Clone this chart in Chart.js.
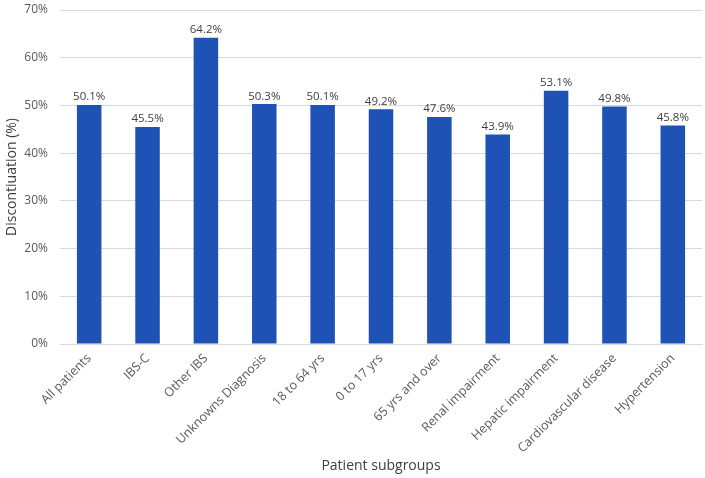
<!DOCTYPE html>
<html>
<head>
<meta charset="utf-8">
<script src="https://cdn.jsdelivr.net/npm/chart.js@4/dist/chart.umd.min.js"></script>
<style>
    html, body { margin: 0; padding: 0; background: #fff; }
    #wrap { width: 705px; height: 478px; }
</style>
</head>
<body>
<div id="wrap"><canvas id="disc_chart"></canvas></div>
<script>
const categories = ["All patients", "IBS-C", "Other IBS", "Unknowns Diagnosis", "18 to 64 yrs", "0 to 17 yrs",
    "65 yrs and over", "Renal impairment", "Hepatic impairment", "Cardiovascular disease", "Hypertension"];
const discontinuation = [50.1, 45.5, 64.2, 50.3, 50.1, 49.2, 47.6, 43.9, 53.1, 49.8, 45.8];
const yTicks = [0, 10, 20, 30, 40, 50, 60, 70];

const fontFamily = "'Open Sans', 'Noto Sans', sans-serif";

// value labels above the bars
const barLabels = {
    id: 'barLabels',
    afterDatasetsDraw(chart) {
        const ctx = chart.ctx;
        const meta = chart.getDatasetMeta(0);
        ctx.save();
        ctx.font = "11.5px " + fontFamily;
        ctx.fillStyle = '#404040';
        ctx.textAlign = 'center';
        ctx.textBaseline = 'bottom';
        meta.data.forEach((bar, i) => {
            ctx.fillText(discontinuation[i].toFixed(1) + '%', bar.x, bar.y - 2);
        });
        ctx.restore();
    }
};

const ctx = document.getElementById('disc_chart').getContext('2d');
const disc_chart = new Chart(ctx, {
    type: 'bar',
    data: {
        labels: categories,
        datasets: [{
            label: "Discontinuation",
            data: discontinuation,
            backgroundColor: '#1f52b5',
            borderWidth: 0,
            categoryPercentage: 1,
            barPercentage: 0.42
        }]
    },
    options: {
        responsive: true,
        maintainAspectRatio: false,
        animation: false,
        layout: { padding: { top: 10, right: 3, left: 0, bottom: 0 } },
        plugins: {
            legend: { display: false },
            tooltip: { enabled: false }
        },
        scales: {
            y: {
                min: 0,
                max: 70,
                afterBuildTicks: (axis) => { axis.ticks = yTicks.map(v => ({ value: v })); },
                grid: { color: '#d9d9d9', drawTicks: false },
                border: { display: false },
                ticks: {
                    padding: 12,
                    color: '#595959',
                    font: { size: 12, family: fontFamily },
                    callback: (v) => v + '%'
                },
                title: {
                    display: true,
                    text: 'Discontiuation (%)',
                    color: '#404040',
                    font: { size: 14, family: fontFamily },
                    padding: { bottom: 2 }
                },
                afterFit: (axis) => {
                    axis.width = 60;
                    axis.paddingTop = 0;
                    axis.paddingBottom = 0;
                }
            },
            x: {
                grid: { display: false, drawTicks: false },
                border: { display: true, color: '#d9d9d9' },
                ticks: {
                    minRotation: 45,
                    maxRotation: 45,
                    padding: 7,
                    autoSkip: false,
                    color: '#595959',
                    font: { size: 12.5, family: fontFamily }
                },
                title: {
                    display: true,
                    text: 'Patient subgroups',
                    color: '#404040',
                    font: { size: 14, family: fontFamily },
                    padding: { top: 0 }
                },
                afterFit: (axis) => { axis.height = 134; }
            }
        }
    },
    plugins: [barLabels]
});
</script>
</body>
</html>
